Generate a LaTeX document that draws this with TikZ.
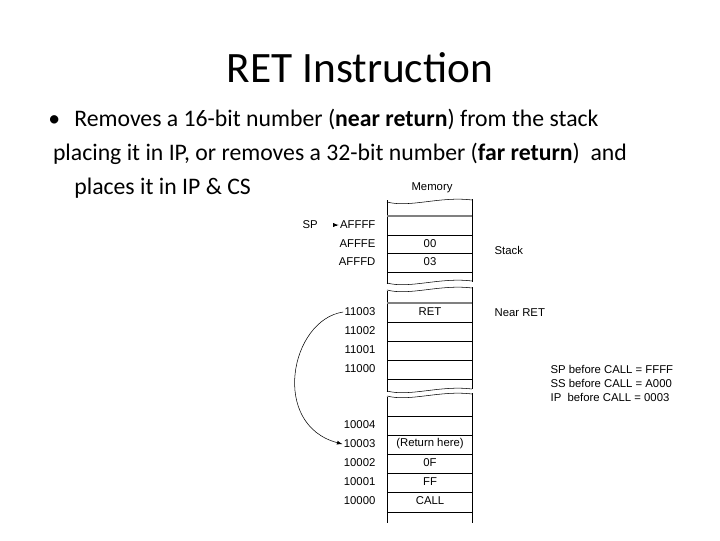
\documentclass[tikz,border=0pt]{standalone}
\usepackage{fontspec}
\setmainfont{Carlito}
\newfontfamily\memfont{Liberation Sans}
\usetikzlibrary{positioning}

\begin{document}
\begin{tikzpicture}[x=0.75pt,y=-0.75pt,
    addr/.style={anchor=east, font=\memfont\fontsize{8.5}{10}\selectfont, inner sep=1pt},
    cell/.style={font=\memfont\fontsize{8.5}{10}\selectfont, inner sep=1pt},
    note/.style={anchor=west, font=\memfont\fontsize{8.5}{10.5}\selectfont, inner sep=1pt, align=left}]
    \useasboundingbox (0,0) rectangle (720,540);
    \def\xl{387} \def\xr{472}
    \newcommand{\wavyline}[1]{\draw (\xl,#1) .. controls (410,#1+6) and (440,#1-6) .. (\xr,#1-2);}

    \node (title) at (360,68) {\fontsize{32.5}{36}\selectfont RET Instruction};
    \node[anchor=west, align=left, inner sep=0, font=\fontsize{17.8}{25.5}\selectfont] (body) at (48,154) {%
      \textbullet\hspace{0.6em}Removes a 16-bit number (\textbf{near return}) from the stack\\
      \hspace{0.2em}placing it in IP, or removes a 32-bit number (\textbf{far return})\ \ and\\
      \hspace{1.1em}places it in IP \& CS};

    % memory column
    \node[cell] (mem) at (432,188) {Memory};
    \wavyline{202} \wavyline{283} \wavyline{290} \wavyline{391} \wavyline{396}
    \draw (\xl,200) -- (\xl,284) (\xr,199) -- (\xr,282);
    \draw (\xl,291) -- (\xl,392) (\xr,287) -- (\xr,389);
    \draw (\xl,397) -- (\xl,523) (\xr,393) -- (\xr,523);
    \foreach \y in {216,235,253,272, 303,322,341,360,379, 416,435,454,473,492,512}
      \draw (\xl,\y) -- (\xr,\y);
    \draw[line width=1pt, gray] (\xl,216) -- (\xr,216) (\xl,303) -- (\xr,303);

    % addresses
    \node[addr] (a1) at (377,225) {AFFFF};
    \node[addr] (a2) at (377,244) {AFFFE};
    \node[addr] (a3) at (377,262) {AFFFD};
    \node[addr] (b1) at (377,312) {11003};
    \node[addr] (b2) at (377,331) {11002};
    \node[addr] (b3) at (377,350) {11001};
    \node[addr] (b4) at (377,369) {11000};
    \node[addr] (c1) at (377,425) {10004};
    \node[addr] (c2) at (377,444) {10003};
    \node[addr] (c3) at (377,463) {10002};
    \node[addr] (c4) at (377,482) {10001};
    \node[addr] (c5) at (377,501) {10000};

    % contents
    \node[cell] at (430,244) {00};
    \node[cell] at (430,262) {03};
    \node[cell] at (430,312) {RET};
    \node[cell] at (430,444) {(Return here)};
    \node[cell] at (430,463) {0F};
    \node[cell] at (430,482) {FF};
    \node[cell] at (430,501) {CALL};

    \node[note] (stack) at (493,250) {Stack};
    \node[note] (near) at (493,313) {Near RET};
    \node[note] (info) at (549,383) {SP before CALL = FFFF\\SS before CALL = A000\\IP\ \ before CALL = 0003};

    \node[note] (sp) at (301,225) {SP};
    \draw[-latex, thin] (sp.east) ++(18,0) -- (a1.west);
    \draw[-latex, thin] (b1.west) .. controls (290,320) and (270,425) .. (c2.west);
\end{tikzpicture}
\end{document}
